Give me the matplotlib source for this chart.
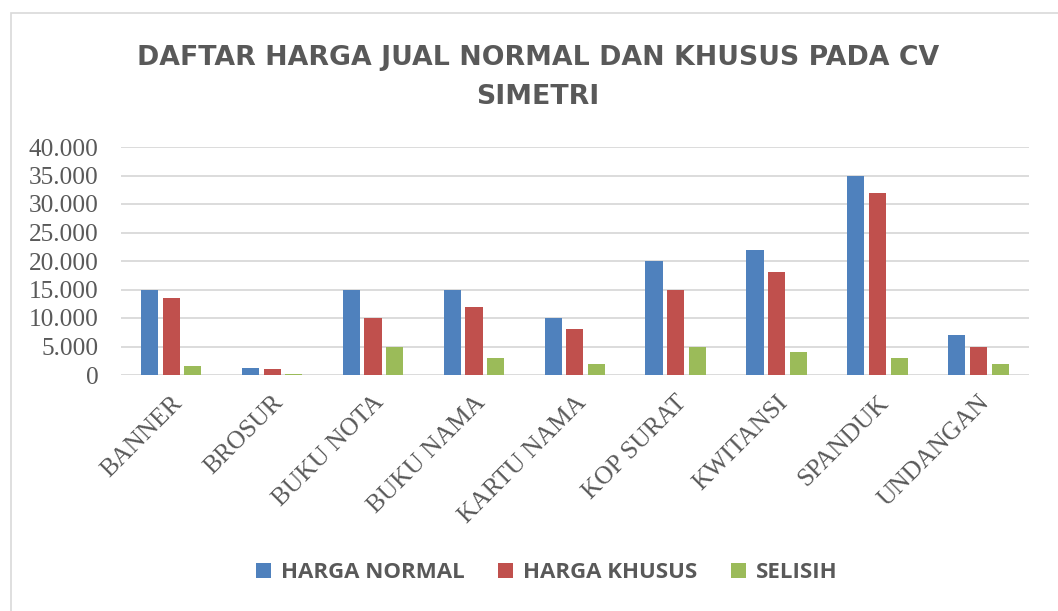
import matplotlib
matplotlib.use('Agg')
import matplotlib.pyplot as plt
from matplotlib.patches import Rectangle, Patch
from matplotlib.ticker import FuncFormatter
import numpy as np

# data
kategori = ['BANNER', 'BROSUR', 'BUKU NOTA', 'BUKU NAMA', 'KARTU NAMA',
            'KOP SURAT', 'KWITANSI', 'SPANDUK', 'UNDANGAN']
harga_normal = [15000, 1250, 15000, 15000, 10000, 20000, 22000, 35000, 7000]
harga_khusus = [13500, 1000, 10000, 12000, 8000, 15000, 18000, 32000, 5000]
selisih = [1500, 250, 5000, 3000, 2000, 5000, 4000, 3000, 2000]
seri = ['HARGA NORMAL', 'HARGA KHUSUS', 'SELISIH']
warna = ['#4F81BD', '#C0504D', '#9BBB59']

W, H = 1058, 611
fig = plt.figure(figsize=(W / 100, H / 100), dpi=100)
fig.patch.set_facecolor('white')

# light frame around the chart (only top/left visible)
fig.patches.append(Rectangle((11 / W, -0.05), 1.2, 1 - 13 / H + 0.05,
                             transform=fig.transFigure, fill=False,
                             edgecolor='#D9D9D9', linewidth=1.2))

ax = fig.add_axes([120.7 / W, (H - 375) / H, (1029 - 120.7) / W, 228 / H])
x = np.arange(len(kategori))
lebar = 0.17
geser = 0.215
for i, (vals, c) in enumerate(zip([harga_normal, harga_khusus, selisih], warna)):
    ax.bar(x + (i - 1) * geser, vals, width=lebar, color=c, edgecolor='none',
           zorder=3, label=seri[i])

ax.set_xlim(-0.5, len(kategori) - 0.5)
ax.set_ylim(0, 40000)
ax.set_yticks(np.arange(0, 40001, 5000))
ax.yaxis.set_major_formatter(FuncFormatter(lambda v, p: f'{int(v):,}'.replace(',', '.')))
ax.grid(axis='y', color='#D9D9D9', linewidth=1.3, zorder=0)
for s in ax.spines.values():
    s.set_visible(False)
ax.tick_params(axis='both', length=0, labelcolor='#595959')
ax.tick_params(axis='y', pad=16)
for lab in ax.get_yticklabels():
    lab.set_fontfamily('Liberation Serif')
    lab.set_fontsize(18.3)

ax.set_xticks(x)
ax.set_xticklabels(kategori, rotation=45, ha='right', va='top',
                   rotation_mode='anchor', fontfamily='Liberation Serif',
                   fontsize=18.3, color='#595959')
ax.tick_params(axis='x', pad=12)

judul = dict(ha='center', va='baseline', fontsize=19.3, fontweight='bold',
             fontfamily='DejaVu Sans', color='#595959')
fig.text(538 / W, 1 - 65 / H, 'DAFTAR HARGA JUAL NORMAL DAN KHUSUS PADA CV', **judul)
fig.text(538 / W, 1 - 104 / H, 'SIMETRI', **judul)

handles = [Patch(facecolor=c, edgecolor='none') for c in warna]
leg = fig.legend(handles, seri, loc='center', ncol=3, frameon=False,
                 bbox_to_anchor=(547 / W, 1 - 573 / H),
                 prop={'family': 'Open Sans', 'weight': 'bold', 'size': 16},
                 handlelength=0.68, handleheight=0.68, handletextpad=0.45,
                 columnspacing=1.5)
for t in leg.get_texts():
    t.set_color('#595959')

fig.savefig('out.png', dpi=100)
